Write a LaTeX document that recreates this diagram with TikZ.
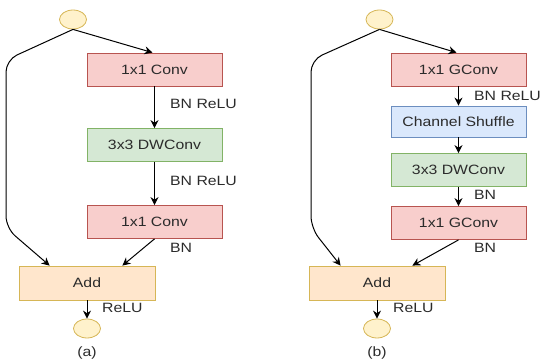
\documentclass[tikz,border=0pt]{standalone}
\usepackage{fontspec}
\setmainfont[FakeStretch=1.17]{Liberation Sans}
\usetikzlibrary{positioning,calc,arrows.meta,shapes.geometric}
\definecolor{redfill}{HTML}{F8CECC}
\definecolor{redline}{HTML}{B85450}
\definecolor{greenfill}{HTML}{D5E8D4}
\definecolor{greenline}{HTML}{82B366}
\definecolor{bluefill}{HTML}{DAE8FC}
\definecolor{blueline}{HTML}{6C8EBF}
\definecolor{addfill}{HTML}{FFE6CC}
\definecolor{addline}{HTML}{D6B656}
\definecolor{iofill}{HTML}{FFF2CC}
\definecolor{txt}{HTML}{2B2B2B}
\tikzset{
  layer/.style={draw,line width=0.8pt,minimum width=135pt,minimum height=33pt,
    font=\fontsize{13.5}{15}\selectfont,text=txt},
  conv/.style={layer,fill=redfill,draw=redline},
  dwconv/.style={layer,fill=greenfill,draw=greenline},
  shuffle/.style={layer,fill=bluefill,draw=blueline,minimum height=31pt},
  addbox/.style={layer,fill=addfill,draw=addline,minimum width=136pt,minimum height=34pt},
  io/.style={ellipse,draw=addline,fill=iofill,line width=0.8pt,minimum width=27pt,minimum height=19pt,inner sep=0pt},
  lbl/.style={font=\fontsize{13.5}{15}\selectfont,text=txt,anchor=west,inner sep=0pt},
  link/.style={-{Stealth[length=8pt,width=8pt]},line width=1pt},
}
\begin{document}
\begin{tikzpicture}[x=1pt,y=-1pt,on grid]
  \useasboundingbox (0,0) rectangle (542,361);
  % (a)
  \node[io] (in_a) at (73,19.5) {};
  \node[conv] (conv1_a) at (154.5,69.5) {1x1 Conv};
  \node[dwconv] (dw_a) [below=75.5pt of conv1_a] {3x3 DWConv};
  \node[conv] (conv2_a) [below=77pt of dw_a] {1x1 Conv};
  \node[addbox] (add_a) at (87,283) {Add};
  \node[io] (out_a) [below=45.5pt of add_a] {};
  \node[lbl] at (170,104) {BN ReLU};
  \node[lbl] at (170,181) {BN ReLU};
  \node[lbl] at (170,248) {BN};
  \node[lbl] at (102,308) {ReLU};
  \node[font=\fontsize{13.5}{15}\selectfont,text=txt] (cap_a) at (87,353) {(a)};
  \coordinate (up_a) at (6,60);
  \coordinate (down_a) at (6,228);
  \draw[link] (in_a.south) -- ($(conv1_a.north)+(-2,0)$);
  \draw[link] (conv1_a) -- (dw_a);
  \draw[link] (dw_a) -- (conv2_a);
  \draw[link] (conv2_a.south) -- ($(add_a.north east)+(-33,0)$);
  \draw[link,rounded corners=12pt] (in_a.south) -- (up_a) -- (down_a) -- ($(add_a.north west)+(31,0)$);
  \draw[link] (add_a) -- (out_a);
  % (b)
  \node[io] (in_b) at (379.5,19.5) {};
  \node[conv] (gconv1_b) at (458.5,69.5) {1x1 GConv};
  \node[shuffle] (shuffle_b) [below=52pt of gconv1_b] {Channel Shuffle};
  \node[dwconv] (dw_b) [below=48.5pt of shuffle_b] {3x3 DWConv};
  \node[conv] (gconv2_b) [below=53pt of dw_b] {1x1 GConv};
  \node[addbox] (add_b) at (377,283) {Add};
  \node[io] (out_b) [below=45.5pt of add_b] {};
  \node[lbl] at (474,96) {BN ReLU};
  \node[lbl] at (474,195) {BN};
  \node[lbl] at (474,248) {BN};
  \node[lbl] at (393,308) {ReLU};
  \node[font=\fontsize{13.5}{15}\selectfont,text=txt] (cap_b) at (377,353) {(b)};
  \coordinate (up_b) at (311,60);
  \coordinate (down_b) at (311,228);
  \draw[link] (in_b.south) -- ($(gconv1_b.north)+(-2,0)$);
  \draw[link] (gconv1_b) -- (shuffle_b);
  \draw[link] (shuffle_b) -- (dw_b);
  \draw[link] (dw_b) -- (gconv2_b);
  \draw[link] (gconv2_b.south) -- ($(add_b.north east)+(-33,0)$);
  \draw[link,rounded corners=12pt] (in_b.south) -- (up_b) -- (down_b) -- ($(add_b.north west)+(32,0)$);
  \draw[link] (add_b) -- (out_b);
\end{tikzpicture}
\end{document}
